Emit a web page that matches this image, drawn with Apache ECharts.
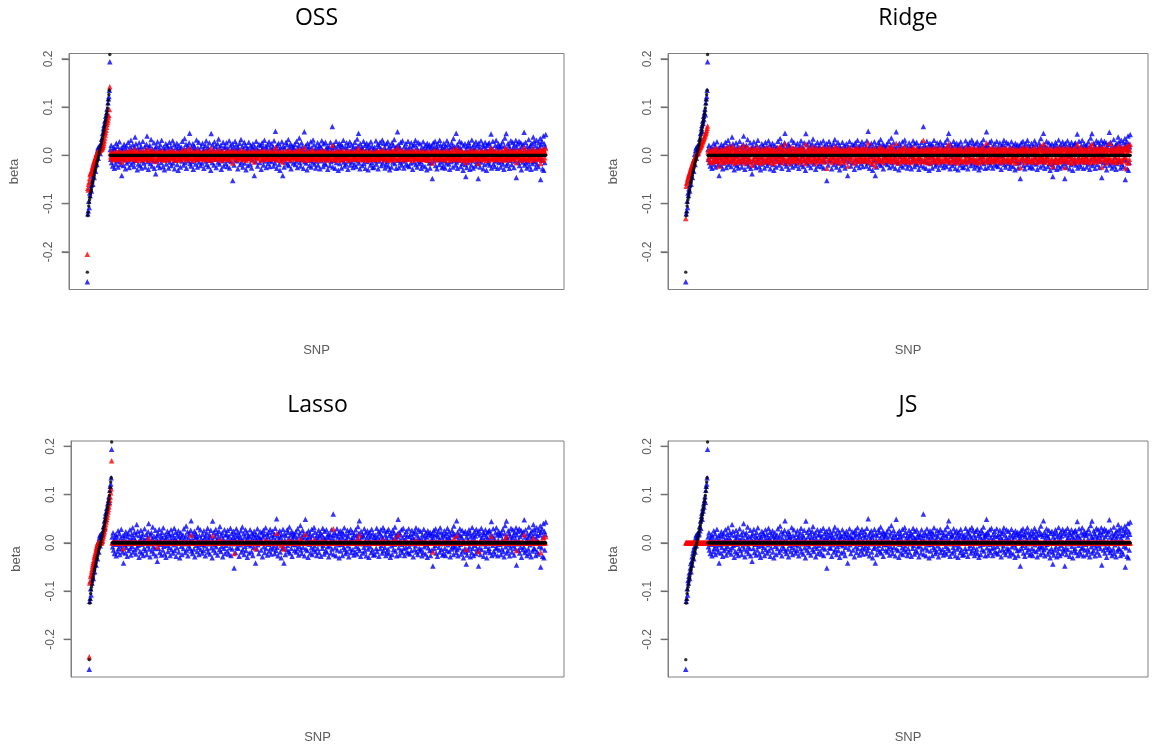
<!DOCTYPE html>
<html><head><meta charset="utf-8">
<script src="https://cdn.jsdelivr.net/npm/echarts@6/dist/echarts.min.js"></script>
<style>html,body{margin:0;padding:0;background:#fff}#c{width:1161px;height:747px}</style>
</head><body><div id="c"></div>
<script>
// ---------------- DATA ----------------
const panelTitles = ['OSS', 'Ridge', 'Lasso', 'JS'];
const yTickValues = [-0.2, -0.1, 0.0, 0.1, 0.2];
const xLabel = 'SNP';
const yLabel = 'beta';

// observed (marginal) beta, blue triangles: 50 causal SNPs then 950 null SNPs
const observedCausal = [
-.262,-.121,-.115,-.095,-.108,-.078,-.083,-.069,-.062,-.074,
-.052,-.043,-.060,-.038,-.029,-.046,-.021,-.015,-.033,-.008,
.002,-.019,.010,.015,-.006,.018,.012,.020,.004,.016,
.019,.034,.025,.045,.030,.055,.062,.049,.071,.066,
.081,.074,.088,.096,.084,.109,.117,.122,.135,.194];
const observedNull = [
.012,-.008,.021,-.015,.004,-.022,.009,.017,-.003,-.027,.014,.006,-.018,.025,-.011,.002,.019,-.024,-.006,.010,.028,-.013,.001,-.019,.015,
-.042,.008,-.004,.016,-.021,.023,-.009,.003,-.028,.013,.020,-.016,.005,-.002,.027,-.012,-.025,.009,.018,-.007,.031,-.019,.011,-.001,.022,
-.014,.006,-.023,.017,.038,-.010,.024,-.005,.002,-.030,.015,-.018,.008,.026,-.003,-.021,.012,.019,-.026,.004,-.011,.029,.007,-.016,.001,
.018,-.024,.010,-.006,.023,.040,-.013,.005,-.029,.016,-.002,.021,-.017,.009,.033,-.008,-.022,.013,.002,-.012,.026,-.027,.007,.015,-.038,
.004,.019,-.011,.028,-.020,.006,-.003,.014,-.025,.022,.010,-.015,.031,-.007,.001,-.023,.017,.008,-.030,.012,-.005,.024,-.018,.003,.020,
-.009,.015,-.026,.007,.027,-.014,.002,.018,-.021,.011,-.004,.030,-.016,.009,.022,-.028,.005,-.010,.016,-.001,.025,-.019,.013,-.031,.006,
.021,-.007,.012,-.024,.003,.017,-.012,.029,-.002,.008,-.020,.014,.035,-.015,.001,.023,-.027,.010,-.006,.019,-.011,.004,.026,.046,-.017,
.007,-.022,.016,.002,-.013,.024,-.029,.011,.020,-.005,.013,-.018,.006,.032,-.009,-.024,.015,.001,.027,-.014,.009,-.003,-.021,.018,.005,
-.016,.025,-.006,.010,-.027,.014,.003,.021,-.012,.030,-.019,.008,-.002,.017,-.023,.012,.026,-.010,.004,-.031,.045,.006,-.015,.022,-.004,
.013,-.020,.028,-.008,.005,.019,-.025,.011,-.001,.024,-.014,.034,.007,-.018,.015,-.007,.021,-.029,.009,.002,-.011,.027,-.022,.016,.003,
-.005,.018,-.017,.026,.009,-.023,.014,.001,-.010,.030,-.026,.006,.020,-.013,.011,-.002,.024,-.052,.008,.017,-.020,.004,.029,-.009,.013,
.022,-.011,.005,-.028,.016,.010,-.004,.025,-.019,.007,.033,-.014,.002,.019,-.024,.012,-.007,.027,-.016,.004,.021,-.030,.009,.015,-.003,
-.021,.013,.027,-.006,.003,-.018,.020,.008,-.026,.016,-.009,.024,-.001,.011,-.042,.018,.006,-.013,.029,-.004,.014,-.022,.010,.001,.023,
.009,-.015,.004,.021,-.029,.012,.026,-.008,.017,-.020,.003,.031,-.012,.007,.019,-.025,.013,-.003,.022,-.017,.006,.028,-.010,-.023,.015,
.002,.024,-.013,.011,-.006,.018,-.022,.030,.005,-.016,.050,-.009,.014,-.027,.021,.008,-.002,.025,-.019,.012,-.031,.017,.004,-.011,.028,
-.008,-.042,.019,.006,-.024,.015,.001,-.014,.027,-.005,.022,-.018,.010,.033,-.021,.003,.016,-.011,.024,-.028,.009,.020,-.003,.013,-.016,
.017,-.004,.023,-.019,.008,-.012,.029,.002,-.025,.014,-.007,.021,.036,-.015,.006,-.022,.011,.026,-.009,.018,-.001,-.027,.012,.049,-.013,
.005,.020,-.016,.009,-.030,.025,-.003,.013,.019,-.021,.007,-.010,.028,-.024,.015,.001,-.014,.032,-.006,.022,-.018,.010,.003,-.026,.016,
-.012,.008,.026,-.020,.014,-.002,.021,-.028,.006,.017,-.011,.030,-.005,.011,-.023,.024,.009,-.016,.002,.027,-.019,.013,-.008,.019,-.029,
.011,-.006,.018,.003,-.021,.027,-.013,.008,.015,.060,-.024,.005,.022,-.010,.016,-.027,.001,.029,-.015,.012,-.004,.020,-.031,.007,.025,
-.017,.014,-.003,.023,-.026,.010,.019,-.009,.031,-.014,.004,-.022,.017,.008,-.018,.026,-.006,.013,-.029,.021,.002,-.012,.028,-.020,.009,
.006,.022,-.014,.011,-.025,.018,.001,-.019,.027,-.007,.015,-.023,.009,.034,-.011,.020,.046,-.016,.005,-.028,.024,.012,-.002,.017,-.021,
.014,-.009,.029,-.017,.003,.021,-.027,.010,-.004,.025,-.013,.016,-.030,.007,.022,-.008,.013,-.020,.028,.001,-.015,.019,-.025,.011,.004,
-.024,.016,.008,-.011,.030,-.018,.012,-.001,.023,-.028,.006,.019,-.012,.027,-.005,.014,-.021,.009,.032,-.016,.003,.025,-.009,.017,-.026,
.010,-.019,.024,.005,-.013,.028,-.022,.015,.002,-.030,.020,-.006,.012,-.024,.026,.007,-.014,.021,-.003,.033,-.017,.009,.016,-.027,.013,
.019,.049,-.010,.022,-.025,.006,.017,-.015,.027,-.003,-.020,.011,.030,-.012,.004,-.026,.018,.008,-.009,.024,-.018,.014,.001,-.021,.029,
-.007,.013,-.023,.018,.005,-.016,.026,-.002,.011,-.029,.020,.008,-.014,.023,-.006,.031,-.019,.003,.016,-.024,.010,.027,-.011,.006,-.017,
.024,-.013,.009,-.027,.017,.002,-.020,.028,-.008,.014,.006,-.023,.021,-.004,.012,-.030,.025,-.010,.018,.001,-.016,.022,-.026,.015,.007,
-.015,.020,-.048,.010,.026,-.012,.016,-.005,.029,-.021,.003,.018,-.028,.013,.024,-.009,.007,-.019,.031,-.002,.021,-.014,.011,-.025,.017,
.003,-.022,.025,-.011,.014,-.026,.020,.007,-.016,.030,-.004,.012,.023,-.018,.009,-.029,.016,.001,-.013,.026,-.007,.019,-.024,.035,-.010,
.018,-.006,.013,-.020,.046,-.014,.022,-.027,.008,.017,-.010,.029,-.003,.015,-.023,.011,.026,-.017,.005,-.031,.020,.002,-.012,.024,-.019,
-.044,.012,-.025,.019,.006,-.015,.027,-.008,.021,-.029,.013,.004,-.020,.032,-.011,.017,-.026,.009,.023,-.005,.014,-.022,.028,-.013,.001,
.020,-.017,-.048,.025,-.010,.016,-.024,.007,.030,-.014,.011,-.002,.022,-.028,.018,.005,-.019,.027,-.007,.013,-.031,.021,.009,-.016,.024,
-.011,.026,-.020,.008,.017,.044,-.026,.014,-.005,.029,-.018,.010,.003,-.023,.021,-.012,.031,-.009,.016,-.027,.006,.024,-.015,.019,-.003,
.015,-.024,.021,-.013,.007,.028,-.018,.002,-.029,.019,.036,-.008,.012,.045,-.021,.010,-.016,.025,-.004,.020,-.027,.014,-.010,.030,.004,
-.019,.011,.027,-.006,.016,-.025,.022,-.012,.008,.031,-.046,.017,-.002,.024,-.015,.006,.029,-.021,.013,-.009,.026,-.030,.018,.003,-.014,
.023,-.008,.048,-.020,.012,.027,-.016,.005,-.026,.019,.010,-.013,.033,-.022,.015,-.004,.021,-.029,.009,.025,-.017,.014,.038,-.011,.028,
-.013,.020,-.026,.009,.031,-.018,.015,.004,-.023,.026,-.007,.017,.035,-.050,.022,-.010,.029,-.028,.012,.040,-.031,.024,-.015,.018,.043];

// true beta, black dots
const trueCausal = [
-.242,-.125,-.118,-.105,-.098,-.092,-.087,-.080,-.075,-.070,
-.064,-.058,-.054,-.050,-.046,-.041,-.036,-.032,-.028,-.024,
-.019,-.015,-.011,-.007,-.003,.001,.006,.010,.014,.019,
.023,.028,.033,.037,.042,.047,.052,.057,.062,.068,
.073,.079,.085,.091,.098,.106,.114,.126,.135,.209];
const trueNull = [
0,0,0,0,0,0,0,0,0,0,0,0,0,0,0,0,0,0,0,0,0,0,0,0,0,0,0,0,0,0,0,0,0,0,0,0,0,0,0,0,0,0,0,0,0,0,0,0,0,0,
0,0,0,0,0,0,0,0,0,0,0,0,0,0,0,0,0,0,0,0,0,0,0,0,0,0,0,0,0,0,0,0,0,0,0,0,0,0,0,0,0,0,0,0,0,0,0,0,0,0,
0,0,0,0,0,0,0,0,0,0,0,0,0,0,0,0,0,0,0,0,0,0,0,0,0,0,0,0,0,0,0,0,0,0,0,0,0,0,0,0,0,0,0,0,0,0,0,0,0,0,
0,0,0,0,0,0,0,0,0,0,0,0,0,0,0,0,0,0,0,0,0,0,0,0,0,0,0,0,0,0,0,0,0,0,0,0,0,0,0,0,0,0,0,0,0,0,0,0,0,0,
0,0,0,0,0,0,0,0,0,0,0,0,0,0,0,0,0,0,0,0,0,0,0,0,0,0,0,0,0,0,0,0,0,0,0,0,0,0,0,0,0,0,0,0,0,0,0,0,0,0,
0,0,0,0,0,0,0,0,0,0,0,0,0,0,0,0,0,0,0,0,0,0,0,0,0,0,0,0,0,0,0,0,0,0,0,0,0,0,0,0,0,0,0,0,0,0,0,0,0,0,
0,0,0,0,0,0,0,0,0,0,0,0,0,0,0,0,0,0,0,0,0,0,0,0,0,0,0,0,0,0,0,0,0,0,0,0,0,0,0,0,0,0,0,0,0,0,0,0,0,0,
0,0,0,0,0,0,0,0,0,0,0,0,0,0,0,0,0,0,0,0,0,0,0,0,0,0,0,0,0,0,0,0,0,0,0,0,0,0,0,0,0,0,0,0,0,0,0,0,0,0,
0,0,0,0,0,0,0,0,0,0,0,0,0,0,0,0,0,0,0,0,0,0,0,0,0,0,0,0,0,0,0,0,0,0,0,0,0,0,0,0,0,0,0,0,0,0,0,0,0,0,
0,0,0,0,0,0,0,0,0,0,0,0,0,0,0,0,0,0,0,0,0,0,0,0,0,0,0,0,0,0,0,0,0,0,0,0,0,0,0,0,0,0,0,0,0,0,0,0,0,0,
0,0,0,0,0,0,0,0,0,0,0,0,0,0,0,0,0,0,0,0,0,0,0,0,0,0,0,0,0,0,0,0,0,0,0,0,0,0,0,0,0,0,0,0,0,0,0,0,0,0,
0,0,0,0,0,0,0,0,0,0,0,0,0,0,0,0,0,0,0,0,0,0,0,0,0,0,0,0,0,0,0,0,0,0,0,0,0,0,0,0,0,0,0,0,0,0,0,0,0,0,
0,0,0,0,0,0,0,0,0,0,0,0,0,0,0,0,0,0,0,0,0,0,0,0,0,0,0,0,0,0,0,0,0,0,0,0,0,0,0,0,0,0,0,0,0,0,0,0,0,0,
0,0,0,0,0,0,0,0,0,0,0,0,0,0,0,0,0,0,0,0,0,0,0,0,0,0,0,0,0,0,0,0,0,0,0,0,0,0,0,0,0,0,0,0,0,0,0,0,0,0,
0,0,0,0,0,0,0,0,0,0,0,0,0,0,0,0,0,0,0,0,0,0,0,0,0,0,0,0,0,0,0,0,0,0,0,0,0,0,0,0,0,0,0,0,0,0,0,0,0,0,
0,0,0,0,0,0,0,0,0,0,0,0,0,0,0,0,0,0,0,0,0,0,0,0,0,0,0,0,0,0,0,0,0,0,0,0,0,0,0,0,0,0,0,0,0,0,0,0,0,0,
0,0,0,0,0,0,0,0,0,0,0,0,0,0,0,0,0,0,0,0,0,0,0,0,0,0,0,0,0,0,0,0,0,0,0,0,0,0,0,0,0,0,0,0,0,0,0,0,0,0,
0,0,0,0,0,0,0,0,0,0,0,0,0,0,0,0,0,0,0,0,0,0,0,0,0,0,0,0,0,0,0,0,0,0,0,0,0,0,0,0,0,0,0,0,0,0,0,0,0,0,
0,0,0,0,0,0,0,0,0,0,0,0,0,0,0,0,0,0,0,0,0,0,0,0,0,0,0,0,0,0,0,0,0,0,0,0,0,0,0,0,0,0,0,0,0,0,0,0,0,0];

// OSS estimates, red triangles
const ossCausal = [
-.205,-.068,-.072,-.060,-.055,-.048,-.040,-.037,-.036,-.033,
-.030,-.025,-.022,-.018,-.015,-.012,-.010,-.006,-.004,.000,
.002,.004,.006,.007,.008,.008,.009,.010,.011,.012,
.012,.013,.014,.016,.018,.021,.025,.030,.036,.042,
.047,.052,.058,.064,.068,.072,.078,.083,.095,.142];
const ossNull = [
.004,-.003,.007,-.005,.001,-.008,.003,.006,-.001,-.009,.005,.002,-.006,.008,-.004,.001,.006,-.008,-.002,.003,.009,-.004,.000,-.006,.005,
-.014,.003,-.001,.005,-.007,.008,-.003,.001,-.009,.004,.007,-.005,.002,-.001,.009,-.004,-.008,.003,.006,-.002,.010,-.006,.004,.000,.007,
-.005,.002,-.008,.006,.013,-.003,.008,-.002,.001,-.010,.005,-.006,.003,.009,-.001,-.007,.004,.006,-.009,.001,-.004,.010,.002,-.005,.000,
.006,-.008,.003,-.002,.008,.013,-.004,.002,-.010,.005,-.001,.007,-.006,.003,.011,-.003,-.007,.004,.001,-.004,.009,-.009,.002,.005,-.013,
.001,.006,-.004,.009,-.007,.002,-.001,.005,-.008,.007,.003,-.005,.010,-.002,.000,-.008,.006,.003,-.010,.004,-.002,.008,-.006,.001,.007,
-.003,.005,-.009,.002,.009,-.005,.001,.006,-.007,.004,-.001,.010,-.005,.003,.007,-.009,.002,-.003,.005,.000,.008,-.006,.004,-.010,.002,
.007,-.002,.004,-.008,.001,.006,-.004,.010,-.001,.003,-.007,.005,.012,-.005,.000,.008,-.009,.003,-.002,.006,-.004,.001,.009,.015,-.006,
.002,-.007,.005,.001,-.004,.008,-.010,.004,.007,-.002,.004,-.006,.002,.011,-.003,-.008,.005,.000,.009,-.005,.003,-.001,-.007,.006,.002,
-.005,.008,-.002,.003,-.009,.005,.001,.007,-.004,.010,-.006,.003,-.001,.006,-.008,.004,.009,-.003,.001,-.010,.015,.002,-.005,.007,-.001,
.004,-.007,.009,-.003,.002,.006,-.008,.004,.000,.008,-.005,.011,.002,-.006,.005,-.002,.007,-.010,.003,.001,-.004,.009,-.007,.005,.001,
-.002,.006,-.006,.009,.003,-.008,.005,.000,-.003,.010,-.009,.002,.007,-.004,.004,-.001,.008,-.016,.003,.006,-.007,.001,.010,-.003,.004,
.007,-.004,.002,-.009,.005,.003,-.001,.008,-.006,.002,.011,-.005,.001,.006,-.008,.004,-.002,.009,-.005,.001,.007,-.010,.003,.005,-.001,
-.007,.004,.009,-.002,.001,-.006,.007,.003,-.009,.005,-.003,.008,.000,.004,-.014,.006,.002,-.004,.010,-.001,.005,-.007,.003,.000,.008,
.003,-.005,.001,.007,-.010,.004,.009,-.003,.006,-.007,.001,.010,-.004,.002,.006,-.008,.004,-.001,.007,-.006,.002,.009,-.003,-.008,.005,
.001,.008,-.004,.004,-.002,.006,-.007,.010,.002,-.005,.017,-.003,.005,-.009,.007,.003,-.001,.008,-.006,.004,-.010,.006,.001,-.004,.009,
-.003,-.014,.006,.002,-.008,.005,.000,-.005,.009,-.002,.007,-.006,.003,.011,-.007,.001,.005,-.004,.008,-.009,.003,.007,-.001,.004,-.005,
.006,-.001,.008,-.006,.003,-.004,.010,.001,-.008,.005,-.002,.007,.012,-.005,.002,-.007,.004,.009,-.003,.006,.000,-.009,.004,.016,-.004,
.002,.007,-.005,.003,-.010,.008,-.001,.004,.006,-.007,.002,-.003,.009,-.008,.005,.000,-.005,.011,-.002,.007,-.006,.003,.001,-.009,.005,
-.004,.003,.009,-.007,.005,-.001,.007,-.009,.002,.006,-.004,.010,-.002,.004,-.008,.008,.003,-.005,.001,.009,-.006,.004,-.003,.006,-.010,
.004,-.002,.006,.001,-.007,.009,-.004,.003,.005,.021,-.008,.002,.007,-.003,.005,-.009,.000,.010,-.005,.004,-.001,.007,-.010,.002,.008,
-.006,.005,-.001,.008,-.009,.003,.006,-.003,.010,-.005,.001,-.007,.006,.003,-.006,.009,-.002,.004,-.010,.007,.001,-.004,.009,-.007,.003,
.002,.007,-.005,.004,-.008,.006,.000,-.006,.009,-.002,.005,-.008,.003,.011,-.004,.007,.015,-.005,.002,-.009,.008,.004,-.001,.006,-.007,
.005,-.003,.010,-.006,.001,.007,-.009,.003,-.001,.008,-.004,.005,-.010,.002,.007,-.003,.004,-.007,.009,.000,-.005,.006,-.008,.004,.001,
-.008,.005,.003,-.004,.010,-.006,.004,.000,.008,-.009,.002,.006,-.004,.009,-.002,.005,-.007,.003,.011,-.005,.001,.008,-.003,.006,-.009,
.003,-.006,.008,.002,-.004,.009,-.007,.005,.001,-.010,.007,-.002,.004,-.008,.009,.002,-.005,.007,-.001,.011,-.006,.003,.005,-.009,.004,
.006,.016,-.003,.007,-.008,.002,.006,-.005,.009,-.001,-.007,.004,.010,-.004,.001,-.009,.006,.003,-.003,.008,-.006,.005,.000,-.007,.010,
-.002,.004,-.008,.006,.002,-.005,.009,-.001,.004,-.010,.007,.003,-.005,.008,-.002,.010,-.006,.001,.005,-.008,.003,.009,-.004,.002,-.006,
.008,-.004,.003,-.009,.006,.001,-.007,.009,-.003,.005,.002,-.008,.007,-.001,.004,-.010,.008,-.003,.006,.000,-.005,.007,-.009,.005,.002,
-.005,.007,-.016,.003,.009,-.004,.005,-.002,.010,-.007,.001,.006,-.009,.004,.008,-.003,.002,-.006,.010,-.001,.007,-.005,.004,-.008,.006,
.001,-.007,.008,-.004,.005,-.009,.007,.002,-.005,.010,-.001,.004,.008,-.006,.003,-.010,.005,.000,-.004,.009,-.002,.006,-.008,.012,-.003,
.006,-.002,.004,-.007,.015,-.005,.007,-.009,.003,.006,-.003,.010,-.001,.005,-.008,.004,.009,-.006,.002,-.010,.007,.001,-.004,.008,-.006,
-.015,.004,-.008,.006,.002,-.005,.009,-.003,.007,-.010,.004,.001,-.007,.011,-.004,.006,-.009,.003,.008,-.002,.005,-.007,.009,-.004,.000,
.007,-.006,-.016,.008,-.003,.005,-.008,.002,.010,-.005,.004,-.001,.007,-.009,.006,.002,-.006,.009,-.002,.004,-.010,.007,.003,-.005,.008,
-.004,.009,-.007,.003,.006,.015,-.009,.005,-.002,.010,-.006,.003,.001,-.008,.007,-.004,.011,-.003,.005,-.009,.002,.008,-.005,.006,-.001,
.005,-.008,.007,-.004,.002,.009,-.006,.001,-.010,.006,.012,-.003,.004,.015,-.007,.003,-.005,.008,-.001,.007,-.009,.005,-.003,.010,.001,
-.006,.004,.009,-.002,.005,-.008,.007,-.004,.003,.010,-.015,.006,-.001,.008,-.005,.002,.010,-.007,.004,-.003,.009,-.010,.006,.001,-.005,
.008,-.003,.016,-.007,.004,.009,-.005,.002,-.009,.006,.003,-.004,.011,-.007,.005,-.001,.007,-.010,.003,.008,-.006,.005,.013,-.004,.009,
-.004,.007,-.009,.003,.010,-.006,.005,.001,-.008,.009,-.002,.006,.012,-.017,.007,-.003,.010,-.009,.004,.013,-.010,.008,-.005,.006,.014];

// Ridge estimates, red triangles
const ridgeCausal = [
-.131,-.064,-.058,-.055,-.050,-.047,-.044,-.040,-.038,-.035,
-.032,-.028,-.026,-.023,-.020,-.018,-.015,-.012,-.010,-.008,
-.006,-.004,-.002,.000,.002,.003,.005,.006,.008,.010,
.011,.013,.015,.017,.019,.021,.023,.026,.028,.030,
.033,.035,.038,.040,.043,.046,.049,.052,.056,.061];
const ridgeNull = [
.007,-.005,.012,-.009,.002,-.013,.005,.010,-.002,-.015,.008,.003,-.010,.014,-.006,.001,.011,-.013,-.003,.006,.015,-.007,.001,-.011,.009,
-.022,.005,-.002,.009,-.012,.013,-.005,.002,-.015,.007,.011,-.009,.003,-.001,.015,-.007,-.014,.005,.010,-.004,.017,-.011,.006,.000,.012,
-.008,.003,-.013,.010,.020,-.006,.013,-.003,.001,-.016,.008,-.010,.004,.014,-.002,-.012,.007,.010,-.014,.002,-.006,.016,.004,-.009,.001,
.010,-.013,.006,-.003,.012,.021,-.007,.003,-.016,.009,-.001,.011,-.009,.005,.018,-.004,-.012,.007,.001,-.007,.014,-.015,.004,.008,-.020,
.002,.010,-.006,.015,-.011,.003,-.002,.008,-.014,.012,.005,-.008,.017,-.004,.001,-.013,.009,.004,-.016,.007,-.003,.013,-.010,.002,.011,
-.005,.008,-.014,.004,.015,-.008,.001,.010,-.012,.006,-.002,.016,-.009,.005,.012,-.015,.003,-.006,.009,-.001,.014,-.010,.007,-.017,.003,
.011,-.004,.007,-.013,.002,.009,-.007,.016,-.001,.004,-.011,.008,.019,-.008,.000,.013,-.015,.005,-.003,.010,-.006,.002,.014,.024,-.009,
.004,-.012,.009,.001,-.007,.013,-.016,.006,.011,-.003,.007,-.010,.003,.017,-.005,-.013,.008,.000,.015,-.008,.005,-.002,-.011,.010,.003,
-.009,.014,-.003,.005,-.015,.008,.002,.011,-.007,.016,-.010,.004,-.001,.009,-.012,.006,.014,-.005,.002,-.017,.024,.003,-.008,.012,-.002,
.007,-.011,.015,-.004,.003,.010,-.013,.006,.000,.013,-.008,.018,.004,-.010,.008,-.004,.011,-.016,.005,.001,-.006,.015,-.012,.009,.002,
-.003,.010,-.009,.014,.005,-.012,.008,.001,-.005,.016,-.014,.003,.011,-.007,.006,-.001,.013,-.027,.004,.009,-.011,.002,.016,-.005,.007,
.012,-.006,.003,-.015,.009,.005,-.002,.013,-.010,.004,.018,-.008,.001,.010,-.013,.006,-.004,.015,-.009,.002,.011,-.016,.005,.008,-.002,
-.011,.007,.014,-.003,.002,-.010,.011,.004,-.014,.009,-.005,.013,.000,.006,-.022,.010,.003,-.007,.016,-.002,.008,-.012,.005,.001,.012,
.005,-.008,.002,.011,-.016,.006,.014,-.004,.009,-.011,.002,.017,-.006,.004,.010,-.013,.007,-.002,.012,-.009,.003,.015,-.005,-.012,.008,
.001,.013,-.007,.006,-.003,.010,-.012,.016,.003,-.009,.026,-.005,.008,-.014,.011,.004,-.001,.013,-.010,.006,-.017,.009,.002,-.006,.015,
-.004,-.022,.010,.003,-.013,.008,.001,-.008,.014,-.003,.012,-.010,.005,.018,-.011,.002,.009,-.006,.013,-.015,.005,.011,-.002,.007,-.009,
.009,-.002,.012,-.010,.004,-.006,.016,.001,-.013,.008,-.004,.011,.019,-.008,.003,-.012,.006,.014,-.005,.010,-.001,-.014,.006,.025,-.007,
.003,.011,-.009,.005,-.016,.013,-.002,.007,.010,-.011,.004,-.005,.015,-.013,.008,.001,-.007,.017,-.003,.012,-.010,.005,.002,-.014,.009,
-.006,.004,.014,-.011,.007,-.001,.011,-.015,.003,.009,-.006,.016,-.003,.006,-.012,.013,.005,-.009,.001,.014,-.010,.007,-.004,.010,-.015,
.006,-.003,.010,.002,-.011,.014,-.007,.004,.008,.031,-.013,.003,.012,-.005,.009,-.014,.001,.015,-.008,.006,-.002,.011,-.016,.004,.013,
-.009,.007,-.002,.012,-.014,.005,.010,-.005,.016,-.007,.002,-.012,.009,.004,-.010,.014,-.003,.007,-.015,.011,.001,-.006,.015,-.011,.005,
.003,.012,-.007,.006,-.013,.010,.001,-.010,.014,-.004,.008,-.012,.005,.018,-.006,.011,.024,-.008,.003,-.015,.013,.006,-.001,.009,-.011,
.007,-.005,.015,-.009,.002,.011,-.014,.005,-.002,.013,-.007,.008,-.016,.004,.012,-.004,.007,-.011,.015,.001,-.008,.010,-.013,.006,.002,
-.013,.008,.004,-.006,.016,-.009,.006,-.001,.012,-.015,.003,.010,-.006,.014,-.003,.007,-.011,.005,.017,-.008,.002,.013,-.005,.009,-.014,
.005,-.010,.013,.003,-.007,.015,-.012,.008,.001,-.016,.011,-.003,.006,-.013,.014,.004,-.007,.011,-.002,.018,-.009,.005,.008,-.014,.007,
.010,.026,-.005,.012,-.013,.003,.009,-.008,.014,-.002,-.011,.006,.016,-.006,.002,-.014,.010,.004,-.005,.013,-.009,.007,.001,-.011,.015,
-.004,.007,-.012,.010,.003,-.008,.014,-.001,.006,-.015,.011,.004,-.007,.012,-.003,.016,-.010,.002,.008,-.013,.005,.014,-.006,.003,-.009,
.013,-.007,.005,-.014,.009,.001,-.011,.015,-.004,.007,.003,-.012,.011,-.002,.006,-.016,.013,-.005,.010,.000,-.008,.012,-.014,.008,.004,
-.008,.011,-.025,.005,.014,-.006,.008,-.003,.015,-.011,.002,.010,-.015,.007,.013,-.005,.004,-.010,.016,-.001,.011,-.007,.006,-.013,.009,
.002,-.012,.013,-.006,.007,-.014,.011,.004,-.008,.016,-.002,.006,.012,-.009,.005,-.015,.008,.001,-.007,.014,-.004,.010,-.013,.019,-.005,
.010,-.003,.007,-.011,.024,-.007,.012,-.014,.004,.009,-.005,.015,-.002,.008,-.012,.006,.014,-.009,.003,-.016,.011,.001,-.006,.013,-.010,
-.023,.006,-.013,.010,.003,-.008,.014,-.004,.011,-.015,.007,.002,-.011,.017,-.006,.009,-.014,.005,.012,-.003,.007,-.012,.015,-.007,.001,
.011,-.009,-.025,.013,-.005,.008,-.013,.004,.016,-.007,.006,-.001,.012,-.015,.010,.003,-.010,.014,-.004,.007,-.016,.011,.005,-.008,.013,
-.006,.014,-.011,.004,.009,.023,-.014,.007,-.003,.015,-.009,.005,.002,-.012,.011,-.006,.016,-.005,.008,-.014,.003,.013,-.008,.010,-.002,
.008,-.013,.011,-.007,.004,.015,-.010,.001,-.015,.010,.019,-.004,.006,.024,-.011,.005,-.008,.013,-.002,.011,-.014,.007,-.005,.016,.002,
-.010,.006,.014,-.003,.008,-.013,.012,-.006,.004,.016,-.024,.009,-.001,.013,-.008,.003,.015,-.011,.007,-.005,.014,-.016,.010,.002,-.007,
.012,-.004,.025,-.010,.006,.014,-.008,.003,-.014,.010,.005,-.007,.017,-.011,.008,-.002,.011,-.015,.005,.013,-.009,.007,.020,-.006,.015,
-.007,.011,-.014,.005,.016,-.009,.008,.002,-.012,.014,-.004,.009,.018,-.026,.012,-.005,.015,-.015,.006,.021,-.016,.013,-.008,.010,.023];

// Lasso estimates, red triangles
const lassoCausal = [
-.236,-.083,-.079,-.070,-.066,-.060,-.055,-.049,-.045,-.040,
-.036,-.030,-.026,-.022,-.018,-.013,-.009,-.005,-.002,0,
0,0,0,0,0,0,0,0,.003,.006,
.010,.014,.019,.023,.028,.033,.038,.043,.048,.053,
.058,.064,.069,.075,.081,.088,.095,.104,.112,.170];
const lassoNull = [
0,0,0,0,0, 0,0,0,0,0, 0,0,0,0,0, 0,0,0,0,0, 0,0,0,0,0,
-.012,0,0,0,0, 0,0,0,0,0, 0,0,0,0,0, 0,0,0,0,0, 0,0,0,0,0,
0,0,0,0,0, 0,0,0,0,0, 0,0,0,0,0, 0,0,0,0,0, 0,0,0,0,0,
0,0,0,0,0, .010,0,0,0,0, 0,0,0,0,0, 0,0,0,0,0, 0,0,0,0,-.008,
0,0,0,0,0, 0,0,0,0,0, 0,0,0,0,0, 0,0,0,0,0, 0,0,0,0,0,
0,0,0,0,0, 0,0,0,0,0, 0,0,0,0,0, 0,0,0,0,0, 0,0,0,0,0,
0,0,0,0,0, 0,0,0,0,0, 0,0,0,0,0, 0,0,0,0,0, 0,0,0,.016,0,
0,0,0,0,0, 0,0,0,0,0, 0,0,0,0,0, 0,0,0,0,0, 0,0,0,0,0,
0,0,0,0,0, 0,0,0,0,0, 0,0,0,0,0, 0,0,0,0,0, .015,0,0,0,0,
0,0,0,0,0, 0,0,0,0,0, 0,.007,0,0,0, 0,0,0,0,0, 0,0,0,0,0,
0,0,0,0,0, 0,0,0,0,0, 0,0,0,0,0, 0,0,-.022,0,0, 0,0,0,0,0,
0,0,0,0,0, 0,0,0,0,0, 0,0,0,0,0, 0,0,0,0,0, 0,0,0,0,0,
0,0,0,0,0, 0,0,0,0,0, 0,0,0,0,-.012, 0,0,0,0,0, 0,0,0,0,0,
0,0,0,0,0, 0,0,0,0,0, 0,.006,0,0,0, 0,0,0,0,0, 0,0,0,0,0,
0,0,0,0,0, 0,0,0,0,0, .020,0,0,0,0, 0,0,0,0,0, -.006,0,0,0,0,
0,-.013,0,0,0, 0,0,0,0,0, 0,0,0,.006,0, 0,0,0,0,0, 0,0,0,0,0,
0,0,0,0,0, 0,0,0,0,0, 0,0,.009,0,0, 0,0,0,0,0, 0,0,0,.018,0,
0,0,0,0,0, 0,0,0,0,0, 0,0,0,0,0, 0,0,.007,0,0, 0,0,0,0,0,
0,0,0,0,0, 0,0,0,0,0, 0,.005,0,0,0, 0,0,0,0,0, 0,0,0,0,0,
0,0,0,0,0, 0,0,0,0,.029, 0,0,0,0,0, 0,0,0,0,0, 0,0,0,0,0,
0,0,0,0,0, 0,0,0,0,0, 0,0,0,0,0, 0,0,0,0,0, 0,0,0,0,0,
0,0,0,0,0, 0,0,0,0,0, 0,0,0,.008,0, 0,.016,0,0,0, 0,0,0,0,0,
0,0,0,0,0, 0,0,0,0,0, 0,0,0,0,0, 0,0,0,0,0, 0,0,0,0,0,
0,0,0,0,0, 0,0,0,0,0, 0,0,0,0,0, 0,0,0,.006,0, 0,0,0,0,0,
0,0,0,0,0, 0,0,0,0,0, 0,0,0,0,0, 0,0,0,0,.008, 0,0,0,0,0,
0,.017,0,0,0, 0,0,0,0,0, 0,0,0,0,0, 0,0,0,0,0, 0,0,0,0,0,
0,0,0,0,0, 0,0,0,0,0, 0,0,0,0,0, .006,0,0,0,0, 0,0,0,0,0,
0,0,0,0,0, 0,0,0,0,0, 0,0,0,0,0, 0,0,0,0,0, 0,0,0,0,0,
0,0,-.019,0,0, 0,0,0,0,0, 0,0,0,0,0, 0,0,0,0,0, 0,0,0,0,0,
0,0,0,0,0, 0,0,0,0,0, 0,0,0,0,0, 0,0,0,0,0, 0,0,0,.009,0,
0,0,0,0,.015, 0,0,0,0,0, 0,0,0,0,0, 0,0,0,0,0, 0,0,0,0,0,
-.014,0,0,0,0, 0,0,0,0,0, 0,0,0,0,0, 0,0,0,0,0, 0,0,0,0,0,
0,0,-.018,0,0, 0,0,0,0,0, 0,0,0,0,0, 0,0,0,0,0, 0,0,0,0,0,
0,0,0,0,0, .013,0,0,0,0, 0,0,0,0,0, 0,0,0,0,0, 0,0,0,0,0,
0,0,0,0,0, 0,0,0,0,0, .008,0,0,.014,0, 0,0,0,0,0, 0,0,0,0,0,
0,0,0,0,0, 0,0,0,0,0, -.016,0,0,0,0, 0,0,0,0,0, 0,0,0,0,0,
0,0,.017,0,0, 0,0,0,0,0, 0,0,0,0,0, 0,0,0,0,0, 0,0,.010,0,0,
0,0,0,0,0, 0,0,0,0,0, 0,0,0,-.020,0, 0,0,0,0,.011, 0,0,0,0,.013];

// James-Stein estimates, red triangles (all shrunk to zero)
const jsCausal = [
0,0,0,0,0,0,0,0,0,0, 0,0,0,0,0,0,0,0,0,0, 0,0,0,0,0,0,0,0,0,0, 0,0,0,0,0,0,0,0,0,0, 0,0,0,0,0,0,0,0,0,0];
const jsNull = [
0,0,0,0,0,0,0,0,0,0,0,0,0,0,0,0,0,0,0,0,0,0,0,0,0,0,0,0,0,0,0,0,0,0,0,0,0,0,0,0,0,0,0,0,0,0,0,0,0,0,
0,0,0,0,0,0,0,0,0,0,0,0,0,0,0,0,0,0,0,0,0,0,0,0,0,0,0,0,0,0,0,0,0,0,0,0,0,0,0,0,0,0,0,0,0,0,0,0,0,0,
0,0,0,0,0,0,0,0,0,0,0,0,0,0,0,0,0,0,0,0,0,0,0,0,0,0,0,0,0,0,0,0,0,0,0,0,0,0,0,0,0,0,0,0,0,0,0,0,0,0,
0,0,0,0,0,0,0,0,0,0,0,0,0,0,0,0,0,0,0,0,0,0,0,0,0,0,0,0,0,0,0,0,0,0,0,0,0,0,0,0,0,0,0,0,0,0,0,0,0,0,
0,0,0,0,0,0,0,0,0,0,0,0,0,0,0,0,0,0,0,0,0,0,0,0,0,0,0,0,0,0,0,0,0,0,0,0,0,0,0,0,0,0,0,0,0,0,0,0,0,0,
0,0,0,0,0,0,0,0,0,0,0,0,0,0,0,0,0,0,0,0,0,0,0,0,0,0,0,0,0,0,0,0,0,0,0,0,0,0,0,0,0,0,0,0,0,0,0,0,0,0,
0,0,0,0,0,0,0,0,0,0,0,0,0,0,0,0,0,0,0,0,0,0,0,0,0,0,0,0,0,0,0,0,0,0,0,0,0,0,0,0,0,0,0,0,0,0,0,0,0,0,
0,0,0,0,0,0,0,0,0,0,0,0,0,0,0,0,0,0,0,0,0,0,0,0,0,0,0,0,0,0,0,0,0,0,0,0,0,0,0,0,0,0,0,0,0,0,0,0,0,0,
0,0,0,0,0,0,0,0,0,0,0,0,0,0,0,0,0,0,0,0,0,0,0,0,0,0,0,0,0,0,0,0,0,0,0,0,0,0,0,0,0,0,0,0,0,0,0,0,0,0,
0,0,0,0,0,0,0,0,0,0,0,0,0,0,0,0,0,0,0,0,0,0,0,0,0,0,0,0,0,0,0,0,0,0,0,0,0,0,0,0,0,0,0,0,0,0,0,0,0,0,
0,0,0,0,0,0,0,0,0,0,0,0,0,0,0,0,0,0,0,0,0,0,0,0,0,0,0,0,0,0,0,0,0,0,0,0,0,0,0,0,0,0,0,0,0,0,0,0,0,0,
0,0,0,0,0,0,0,0,0,0,0,0,0,0,0,0,0,0,0,0,0,0,0,0,0,0,0,0,0,0,0,0,0,0,0,0,0,0,0,0,0,0,0,0,0,0,0,0,0,0,
0,0,0,0,0,0,0,0,0,0,0,0,0,0,0,0,0,0,0,0,0,0,0,0,0,0,0,0,0,0,0,0,0,0,0,0,0,0,0,0,0,0,0,0,0,0,0,0,0,0,
0,0,0,0,0,0,0,0,0,0,0,0,0,0,0,0,0,0,0,0,0,0,0,0,0,0,0,0,0,0,0,0,0,0,0,0,0,0,0,0,0,0,0,0,0,0,0,0,0,0,
0,0,0,0,0,0,0,0,0,0,0,0,0,0,0,0,0,0,0,0,0,0,0,0,0,0,0,0,0,0,0,0,0,0,0,0,0,0,0,0,0,0,0,0,0,0,0,0,0,0,
0,0,0,0,0,0,0,0,0,0,0,0,0,0,0,0,0,0,0,0,0,0,0,0,0,0,0,0,0,0,0,0,0,0,0,0,0,0,0,0,0,0,0,0,0,0,0,0,0,0,
0,0,0,0,0,0,0,0,0,0,0,0,0,0,0,0,0,0,0,0,0,0,0,0,0,0,0,0,0,0,0,0,0,0,0,0,0,0,0,0,0,0,0,0,0,0,0,0,0,0,
0,0,0,0,0,0,0,0,0,0,0,0,0,0,0,0,0,0,0,0,0,0,0,0,0,0,0,0,0,0,0,0,0,0,0,0,0,0,0,0,0,0,0,0,0,0,0,0,0,0,
0,0,0,0,0,0,0,0,0,0,0,0,0,0,0,0,0,0,0,0,0,0,0,0,0,0,0,0,0,0,0,0,0,0,0,0,0,0,0,0,0,0,0,0,0,0,0,0,0,0];

// ---------------- CHART ----------------
const observed = observedCausal.concat(observedNull);
const trueBeta = trueCausal.concat(trueNull);
const estimates = [
  ossCausal.concat(ossNull),
  ridgeCausal.concat(ridgeNull),
  lassoCausal.concat(lassoNull),
  jsCausal.concat(jsNull)
];
const nSNP = observed.length;
const pad = (nSNP - 1) * 0.04;   // R-style 4% axis extension
const xMin = 1 - pad, xMax = nSNP + pad;
function pts(arr) { return arr.map((v, k) => [k + 1, v]); }

const boxes = [
  {left: 69,  top: 53.5, width: 495, height: 236},
  {left: 668, top: 53.5, width: 480, height: 236},
  {left: 71,  top: 441,  width: 493, height: 236},
  {left: 668, top: 441,  width: 480, height: 236}
];
const titleY = [18, 18, 405, 405];
const snpY = [350, 350, 737, 737];
const frameColor = '#808080';
const yMin = -0.278, yMax = 0.211;

const grids = [], xAxes = [], yAxes = [], series = [], graphics = [];
boxes.forEach((b, k) => {
  grids.push({left: b.left, top: b.top, width: b.width, height: b.height, show: true,
    borderColor: frameColor, borderWidth: 1, backgroundColor: 'transparent'});
  xAxes.push({type: 'value', gridIndex: k, min: xMin, max: xMax, show: false});
  yAxes.push({type: 'value', gridIndex: k, position: 'left', min: yMin, max: yMax, splitNumber: 5,
    axisLine: {show: true, onZero: false, lineStyle: {color: frameColor, width: 1}},
    splitLine: {show: false},
    axisTick: {show: true, inside: false, length: 7, lineStyle: {color: '#707070', width: 1.2}},
    axisLabel: {show: true, rotate: 90, margin: 14, color: '#5a5a5a', fontSize: 12,
      showMinLabel: false, showMaxLabel: false,
      fontFamily: 'Liberation Sans, Arial, sans-serif',
      formatter: v => (yTickValues.some(t => Math.abs(t - v) < 1e-9) ? Number(v).toFixed(1) : '')}});
  // tick marks on the left side of the box, positioned through the axis scales
  series.push({type: 'scatter', name: 'yTicks', xAxisIndex: k, yAxisIndex: k, symbol: 'rect',
    symbolSize: [7, 1.4], symbolOffset: [-4, 0], clip: false, z: 5,
    itemStyle: {color: '#707070'}, data: yTickValues.map(v => [xMin, v]), animation: false, silent: true});
  series.push({type: 'scatter', name: 'observed', xAxisIndex: k, yAxisIndex: k, symbol: 'triangle', symbolSize: 5.5,
    itemStyle: {color: '#0000ff'}, data: pts(observed), animation: false, silent: true});
  series.push({type: 'scatter', name: panelTitles[k], xAxisIndex: k, yAxisIndex: k, symbol: 'triangle', symbolSize: 5.5,
    itemStyle: {color: '#ff0000'}, data: pts(estimates[k]), animation: false, silent: true});
  series.push({type: 'scatter', name: 'true', xAxisIndex: k, yAxisIndex: k, symbol: 'circle', symbolSize: 3.4,
    itemStyle: {color: '#000000'}, data: pts(trueBeta), animation: false, silent: true});
  const cx = b.left + b.width / 2;
  graphics.push({type: 'text', x: cx, y: titleY[k], style: {text: panelTitles[k], fill: '#000',
    font: '23px "Open Sans", sans-serif', textAlign: 'center', textVerticalAlign: 'middle'}});
  graphics.push({type: 'text', x: cx, y: snpY[k], style: {text: xLabel, fill: '#5a5a5a',
    font: '13px "Liberation Sans", Arial, sans-serif', textAlign: 'center', textVerticalAlign: 'middle'}});
  graphics.push({type: 'text', x: b.left - 55, y: b.top + b.height / 2, rotation: Math.PI / 2,
    style: {text: yLabel, fill: '#5a5a5a', font: '13px "Liberation Sans", Arial, sans-serif',
      textAlign: 'center', textVerticalAlign: 'middle'}});
});

const chart = echarts.init(document.getElementById('c'), null, {renderer: 'canvas'});
chart.setOption({
  animation: false,
  backgroundColor: '#ffffff',
  grid: grids, xAxis: xAxes, yAxis: yAxes, series: series, graphic: graphics
});
</script></body></html>
